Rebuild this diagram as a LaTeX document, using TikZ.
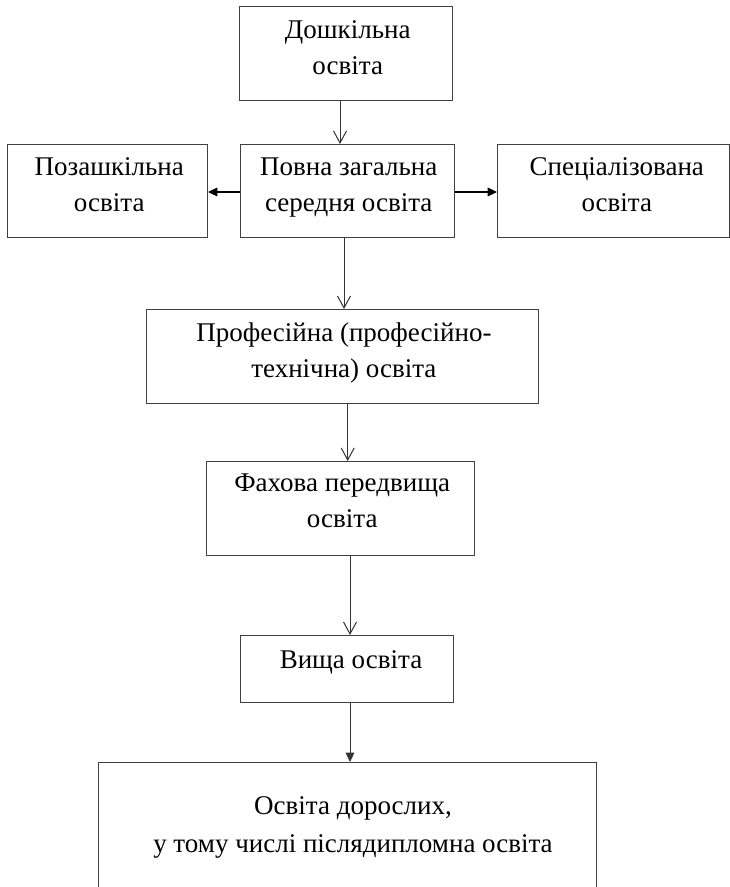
\documentclass[tikz,border=0pt]{standalone}
\usepackage{fontspec}
\setmainfont{Liberation Serif}
\usetikzlibrary{arrows.meta}
\begin{document}
\begin{tikzpicture}[x=0.75pt,y=-0.75pt,
  box/.style={draw=black!75, line width=0.75pt, inner sep=0pt, anchor=north west},
  openbox/.style={inner sep=0pt, anchor=north west},
  boxline/.style={draw=black!75, line width=0.75pt},
  txt/.style={anchor=north, inner sep=0pt, align=center, font=\fontsize{20.25pt}{27pt}\selectfont},
  openarr/.style={draw=black!80, line width=0.75pt, -{Straight Barb[length=9pt,width=9.75pt]}},
  fillarr/.style={draw=black, line width=0.9pt, -{Triangle[length=7pt,width=6.5pt]}},
  thinfillarr/.style={draw=black!80, line width=0.75pt, -{Triangle[length=7pt,width=6.5pt]}}]
\useasboundingbox (0,0) rectangle (730,887);

% boxes
\node[box, minimum width=159.75pt, minimum height=70.5pt] (A) at (239,6) {};
\node[box, minimum width=150pt,    minimum height=69.75pt] (B) at (7,144) {};
\node[box, minimum width=160.5pt,  minimum height=69.75pt] (C) at (240,144) {};
\node[box, minimum width=174pt,    minimum height=69.75pt] (D) at (497,144) {};
\node[box, minimum width=294pt,    minimum height=70.5pt] (E) at (146,309) {};
\node[box, minimum width=201pt,    minimum height=70.5pt] (F) at (206,461) {};
\node[box, minimum width=159.75pt, minimum height=50.25pt] (G) at (240,635) {};
\node[openbox, minimum width=373.5pt, minimum height=97.5pt] (H) at (98,762) {};
\draw[boxline] (H.south west) -- (H.north west) -- (H.north east) -- (H.south east);

% texts
\node[txt] (At) at (347.75,12.8) {\strut Дошкільна\\освіта};
\node[txt] (Bt) at (109.25,149.8) {\strut Позашкільна\\освіта};
\node[txt] (Ct) at (348.75,149.8) {\strut Повна загальна\\середня освіта};
\node[txt] (Dt) at (616.75,149.8) {\strut Спеціалізована\\освіта};
\node[txt] (Et) at (343.9,315.8) {\strut Професійна (професійно-\\технічна) освіта};
\node[txt] (Ft) at (342.25,466.5) {\strut Фахова передвища\\освіта};
\node[txt] (Gt) at (351,642.8) {\strut Вища освіта};
\node[txt] (Ht) at (353,788.8) {\strut Освіта дорослих,\\[1.5pt]у тому числі післядипломна освіта};

% connector guides
\coordinate (x1) at (340,0);
\coordinate (x2) at (344,0);
\coordinate (x3) at (347.7,0);
\coordinate (x4) at (350,0);
\coordinate (y1) at (0,192);

% connectors
\draw[openarr] (A.south -| x1) -- (C.north -| x1);
\draw[fillarr] (C.west |- y1) -- (B.east |- y1);
\draw[fillarr] (C.east |- y1) -- (D.west |- y1);
\draw[openarr] (C.south -| x2) -- (E.north -| x2);
\draw[openarr] (E.south -| x3) -- (F.north -| x3);
\draw[openarr] (F.south -| x4) -- (G.north -| x4);
\draw[thinfillarr] (G.south -| x4) -- (H.north -| x4);
\end{tikzpicture}
\end{document}
